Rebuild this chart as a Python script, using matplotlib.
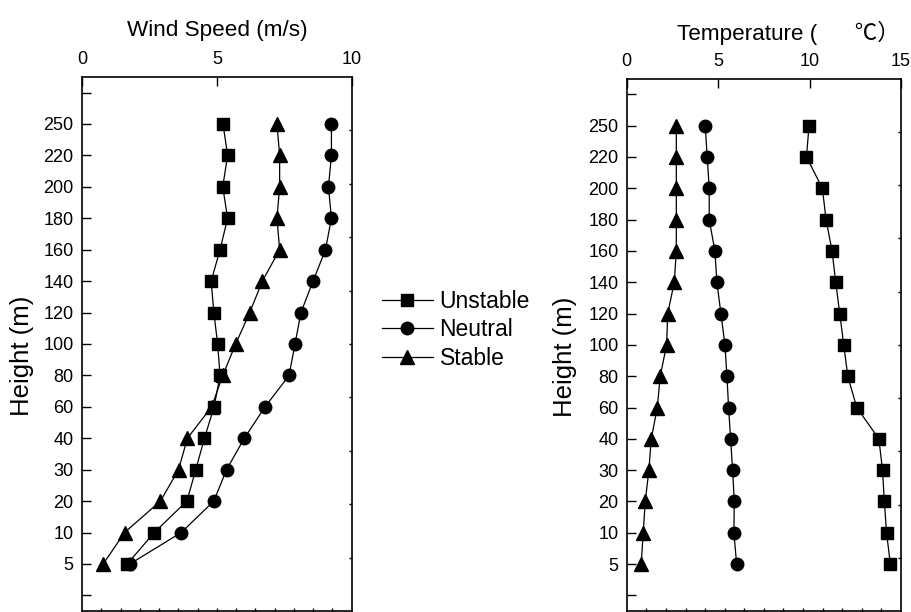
import matplotlib.pyplot as plt
import numpy as np

plt.rcParams['font.family'] = ['Liberation Sans', 'Noto Sans CJK SC', 'DejaVu Sans']

heights = ['5', '10', '20', '30', '40', '60', '80', '100', '120', '140', '160', '180', '200', '220', '250']

wind_unstable = [1.68, 2.68, 3.89, 4.22, 4.54, 4.90, 5.12, 5.03, 4.89, 4.79, 5.12, 5.40, 5.22, 5.40, 5.23]
wind_neutral = [1.78, 3.68, 4.89, 5.36, 6.02, 6.79, 7.68, 7.90, 8.12, 8.57, 9.03, 9.25, 9.14, 9.25, 9.25]
wind_stable = [0.79, 1.58, 2.91, 3.58, 3.91, 4.81, 5.22, 5.70, 6.22, 6.69, 7.33, 7.23, 7.33, 7.33, 7.23]

temp_unstable = [14.42, 14.21, 14.09, 13.99, 13.79, 12.58, 12.09, 11.87, 11.65, 11.43, 11.23, 10.90, 10.70, 9.83, 9.97]
temp_neutral = [6.01, 5.86, 5.88, 5.79, 5.68, 5.57, 5.48, 5.37, 5.15, 4.93, 4.82, 4.51, 4.51, 4.40, 4.29]
temp_stable = [0.79, 0.90, 1.01, 1.21, 1.34, 1.67, 1.83, 2.18, 2.24, 2.60, 2.71, 2.71, 2.71, 2.71, 2.71]

labels = ['Unstable', 'Neutral', 'Stable']
markers = ['s', 'o', '^']
msizes = [8, 9, 9.5]

fig = plt.figure(figsize=(9.11, 6.12), dpi=100)
ax1 = fig.add_axes([0.090, 0.0015, 0.296, 0.873])
ax2 = fig.add_axes([0.688, 0.0015, 0.301, 0.870])

pos = np.arange(len(heights))


def style_axis(ax, xmax, xstep, xlabel, xlab_x, ylab_x):
    # small minor ticks on right and bottom spines (twins first: they reset tick sides)
    axr = ax.twinx()
    axr.set_ylim(0, 10)
    axr.set_yticks(np.arange(1, 10))
    axr.set_yticklabels([])
    axr.tick_params(direction='in', length=2, width=1.0)
    axb = ax.twiny()
    axb.xaxis.set_ticks_position('bottom')
    axb.set_xlim(0, 14)
    axb.set_xticks(np.arange(1, 14))
    axb.set_xticklabels([])
    axb.tick_params(direction='in', length=2, width=1.0)
    for a in (axr, axb):
        for sp in a.spines.values():
            sp.set_visible(False)

    for sp in ax.spines.values():
        sp.set_linewidth(1.2)
    ax.set_xlim(0, xmax)
    ax.set_ylim(-1.5, 15.5)
    ax.xaxis.tick_top()
    ax.xaxis.set_label_position('top')
    ax.yaxis.tick_left()
    ax.set_xticks(np.arange(0, xmax + 0.1, xstep))
    ax.set_yticks(list(pos) + [-1, 15])
    ax.set_yticklabels(heights + ['', ''])
    ax.tick_params(axis='both', direction='in', length=6.5, width=1.0, labelsize=13, pad=6)
    ax.tick_params(axis='x', pad=6)
    ax.set_xlabel(xlabel, fontsize=16.2)
    ax.xaxis.set_label_coords(xlab_x, 1.0 + 46 / 535)
    ax.xaxis.label.set_verticalalignment('center')
    ax.set_ylabel('Height (m)', fontsize=18.5)
    ax.yaxis.set_label_coords(ylab_x, 0.478)
    ax.yaxis.label.set_verticalalignment('center')


series1 = [wind_unstable, wind_neutral, wind_stable]
series2 = [temp_unstable, temp_neutral, temp_stable]
for vals, lab, m, ms in zip(series1, labels, markers, msizes):
    ax1.plot(vals, pos, color='black', lw=0.9, marker=m, ms=ms, label=lab)
for vals, m, ms in zip(series2, markers, msizes):
    ax2.plot(vals, pos, color='black', lw=0.9, marker=m, ms=ms)

style_axis(ax1, 10, 5, 'Wind Speed (m/s)', 0.5, -0.222)
style_axis(ax2, 15, 5, 'Temperature (      \u2103\uff09', 0.590, -0.226)

handles, labs = ax1.get_legend_handles_labels()
fig.legend(handles, labs, loc='center left', bbox_to_anchor=(0.407, 0.461),
           frameon=False, fontsize=16.5, handlelength=2.2, handletextpad=0.3,
           labelspacing=0.25, borderpad=0)

fig.savefig('out.png', dpi=100)
